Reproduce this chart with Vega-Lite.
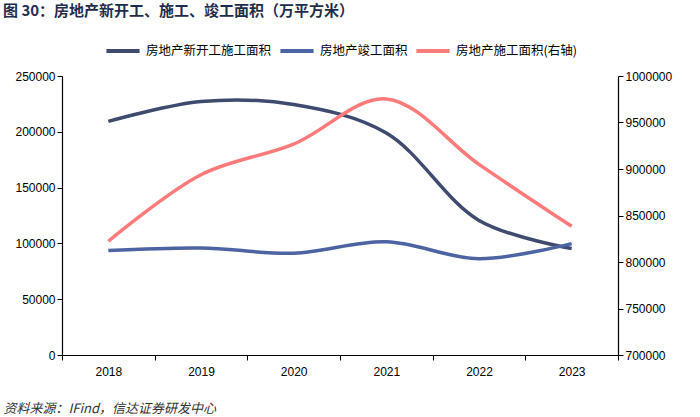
{
  "$schema": "https://vega.github.io/schema/vega-lite/v6.json",
  "width": 556,
  "height": 279,
  "padding": {"left": 3, "top": 4, "right": 6, "bottom": 0},
  "background": "white",
  "config": {
    "font": "Liberation Sans",
    "view": {"stroke": null},
    "axis": {"labelFont": "Liberation Sans", "labelFontSize": 12, "labelColor": "#000000", "domainColor": "#000000", "tickColor": "#000000", "grid": false, "tickSize": 5, "domainWidth": 1.2, "labelOverlap": false},
    "legend": {"layout": {"top": {"anchor": "middle"}}}
  },
  "title": {
    "text": "图 30：房地产新开工、施工、竣工面积（万平方米）",
    "anchor": "start",
    "frame": "bounds",
    "font": "Noto Sans CJK SC",
    "fontSize": 15,
    "fontWeight": "bold",
    "color": "#1F2D4D",
    "offset": 13
  },
  "data": {
    "values": [
      {"year": "2018", "series": "房地产新开工施工面积", "value": 209342},
      {"year": "2019", "series": "房地产新开工施工面积", "value": 227154},
      {"year": "2020", "series": "房地产新开工施工面积", "value": 224433},
      {"year": "2021", "series": "房地产新开工施工面积", "value": 198895},
      {"year": "2022", "series": "房地产新开工施工面积", "value": 120587},
      {"year": "2023", "series": "房地产新开工施工面积", "value": 95376},
      {"year": "2018", "series": "房地产竣工面积", "value": 93550},
      {"year": "2019", "series": "房地产竣工面积", "value": 95942},
      {"year": "2020", "series": "房地产竣工面积", "value": 91218},
      {"year": "2021", "series": "房地产竣工面积", "value": 101412},
      {"year": "2022", "series": "房地产竣工面积", "value": 86222},
      {"year": "2023", "series": "房地产竣工面积", "value": 99831},
      {"year": "2018", "series": "房地产施工面积(右轴)", "value": 822300},
      {"year": "2019", "series": "房地产施工面积(右轴)", "value": 893821},
      {"year": "2020", "series": "房地产施工面积(右轴)", "value": 926759},
      {"year": "2021", "series": "房地产施工面积(右轴)", "value": 975387},
      {"year": "2022", "series": "房地产施工面积(右轴)", "value": 904999},
      {"year": "2023", "series": "房地产施工面积(右轴)", "value": 838364}
    ]
  },
  "encoding": {
    "x": {
      "field": "year",
      "type": "ordinal",
      "bandPosition": 0.5,
      "scale": {"type": "band", "paddingInner": 0, "paddingOuter": 0},
      "axis": {
        "labelAngle": 0,
        "tickBand": "extent",
        "labelPadding": 6,
        "title": "资料来源：IFind，信达证券研发中心",
        "titleAnchor": "start",
        "titleX": -59,
        "titleY": 60,
        "titleBaseline": "bottom",
        "titleAlign": "left",
        "titleFont": "Noto Sans CJK SC",
        "titleFontSize": 13,
        "titleFontWeight": "normal",
        "titleFontStyle": "italic",
        "titleColor": "#333333"
      }
    },
    "color": {
      "field": "series",
      "type": "nominal",
      "scale": {
        "domain": ["房地产新开工施工面积", "房地产竣工面积", "房地产施工面积(右轴)"],
        "range": ["#3E4A6E", "#4D64A3", "#FF7B7B"]
      },
      "legend": {
        "orient": "top",
        "direction": "horizontal",
        "title": null,
        "symbolType": "stroke",
        "symbolSize": 1100,
        "symbolStrokeWidth": 4,
        "labelFont": "Noto Sans CJK SC",
        "labelFontSize": 12.5,
        "labelColor": "#000000",
        "labelOffset": 4,
        "columnPadding": 0,
        "offset": 17,
        "labelLimit": 300
      }
    }
  },
  "layer": [
    {
      "transform": [{"filter": "datum.series !== '房地产施工面积(右轴)'"}],
      "mark": {"type": "line", "interpolate": "catmull-rom", "strokeWidth": 3.5},
      "encoding": {
        "y": {
          "field": "value",
          "type": "quantitative",
          "scale": {"domain": [0, 250000]},
          "axis": {"title": null, "values": [0, 50000, 100000, 150000, 200000, 250000], "format": "d"}
        }
      }
    },
    {
      "transform": [{"filter": "datum.series === '房地产施工面积(右轴)'"}],
      "mark": {"type": "line", "interpolate": "catmull-rom", "strokeWidth": 3.5},
      "encoding": {
        "y": {
          "field": "value",
          "type": "quantitative",
          "scale": {"domain": [700000, 1000000], "zero": false},
          "axis": {"title": null, "orient": "right", "values": [700000, 750000, 800000, 850000, 900000, 950000, 1000000], "format": "d"}
        }
      }
    }
  ],
  "resolve": {"scale": {"y": "independent"}}
}
